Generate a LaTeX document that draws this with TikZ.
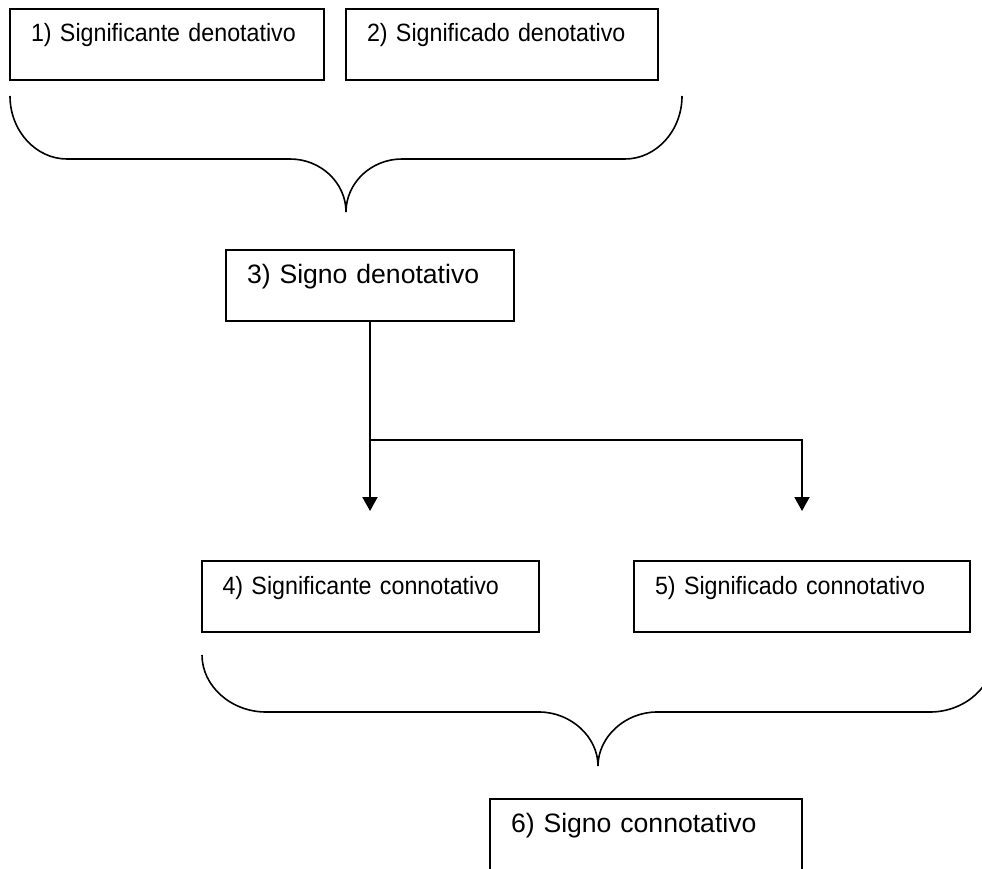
\documentclass[tikz,border=0pt]{standalone}
\usepackage{fontspec}
\setmainfont{Liberation Sans}
\newfontfamily\narrowfont[FakeStretch=0.93,WordSpace=0.93]{Liberation Sans}
\usetikzlibrary{arrows.meta}

\begin{document}
\begin{tikzpicture}[x=1pt,y=-1pt]
	\tikzstyle{N} = [draw,line width=2pt,inner xsep=21pt,inner ysep=0pt,text height=33pt,text depth=38pt,align=left,font=\narrowfont\fontsize{25}{30}\selectfont]
	\tikzstyle{Nb} = [N,font=\fontsize{26.6}{32}\selectfont]
	\tikzstyle{brace} = [line width=1.6pt]
	\tikzstyle{link} = [line width=2pt,-{Triangle[length=14pt,width=15pt]}]
	\clip (0,0) rectangle (982,869);
	\node[N,text width=272pt](SteD) at (167,44.5) {1) Significante denotativo};
	\node[N,right of=SteD,node distance=335pt,text width=270pt](SdoD) {2) Significado denotativo};
	\node[Nb,below of=SteD,node distance=241pt,xshift=203pt,text width=246pt](SgD) {3) Signo denotativo};
	\node[N,below of=SgD,node distance=311pt,text width=295pt](SteC) {4) Significante connotativo};
	\node[N,right of=SteC,node distance=432pt,text width=294pt](SdoC) {5) Significado connotativo};
	\node[Nb,below of=SteC,node distance=238pt,xshift=276pt,text width=270pt](SgC) {6) Signo connotativo};
	% llave sobre 1) y 2)
	\draw[brace] (10,96) .. controls (10,131) and (36,159) .. (67,159) -- (290,159) .. controls (321,159) and (346,183) .. (346,212) .. controls (346,183) and (371,159) .. (402,159) -- (625,159) .. controls (656,159) and (682,131) .. (682,96);
	% llave sobre 4) y 5)
	\draw[brace] (202,655) .. controls (202,686) and (231,712) .. (266,712) -- (539,712) .. controls (571,712) and (598,737) .. (598,766) .. controls (598,737) and (625,712) .. (657,712) -- (930,712) .. controls (965,712) and (994,686) .. (994,655);
	\coordinate (t4) at ([yshift=49pt]SgD.south |- SteC.north);
	\coordinate (t5) at ([yshift=49pt]SdoC.north);
	\coordinate (j) at ([yshift=71pt]t4);
	\draw[link](SgD.south) to (t4);
	\draw[link](j) -| (t5);
\end{tikzpicture}
\end{document}
